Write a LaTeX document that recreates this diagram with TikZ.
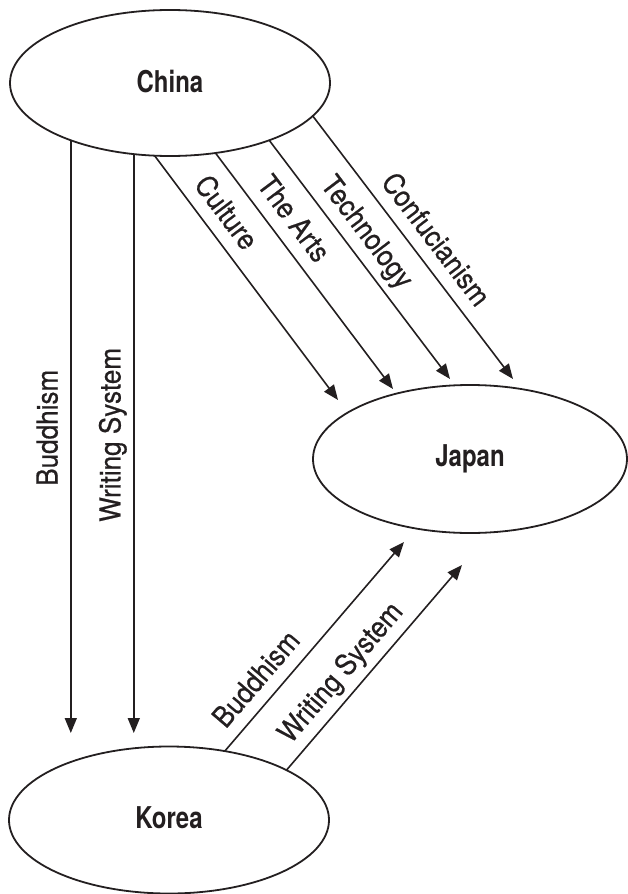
\documentclass[tikz,border=0pt]{standalone}
\usepackage{fontspec}
\usetikzlibrary{arrows.meta,shapes.geometric}
\newfontfamily\labfont{TeX Gyre Heros}[FakeStretch=0.9,FakeBold=0.6]
\newfontfamily\cityfont{TeX Gyre Heros}[FakeStretch=0.8]
\definecolor{ink}{HTML}{231F20}
\begin{document}
\begin{tikzpicture}[x=1pt,y=-1pt,
  city/.style={ellipse, draw=ink, line width=1.8pt, inner sep=0pt, outer sep=0pt,
    font=\cityfont\bfseries\fontsize{30}{30}\selectfont, text=ink},
  arr/.style={draw=ink, line width=1.6pt, -{Triangle[length=15pt,width=12pt]}},
  lab/.style={font=\labfont\fontsize{29}{29}\selectfont, text=ink,
    inner xsep=0pt, inner ysep=12.5pt, text depth=0pt, anchor=south}]
\useasboundingbox (0,0) rectangle (627,894);
\node[city, minimum width=320pt, minimum height=146pt] (China) at (170,83) {\raisebox{4pt}{China}};
\node[city, minimum width=314pt, minimum height=148pt] (Japan) at (470,459) {\raisebox{4pt}{Japan}};
\node[city, minimum width=320pt, minimum height=147pt] (Korea) at (169,820) {\raisebox{4pt}{Korea}};
\coordinate (kt) at (0,733);
\coordinate (jc) at (338,400);
\coordinate (ja) at (393,389);
\coordinate (jt) at (450,379);
\coordinate (jf) at (513,379);
\coordinate (kb) at (404,542);
\coordinate (kw) at (462,565);
\draw[arr] (China.210.5) -- (China.210.5 |- kt) node[lab, pos=0.485, rotate=90] {Buddhism};
\draw[arr] (China.243.8) -- (China.243.8 |- kt) node[lab, pos=0.485, rotate=90] {Writing System};
\draw[arr] (China.258.6) -- (jc) node[lab, sloped, pos=0.29] {Culture};
\draw[arr] (China.303.6) -- (ja) node[lab, sloped, pos=0.337] {The Arts};
\draw[arr] (China.330.7) -- (jt) node[lab, sloped, pos=0.442] {Technology};
\draw[arr] (China.347.9) -- (jf) node[lab, sloped, pos=0.523] {Confucianism};
\draw[arr] (Korea.51.1) -- (kb) node[lab, sloped, pos=0.273] {Buddhism};
\draw[arr] (Korea.23.1) -- (kw) node[lab, sloped, pos=0.405] {Writing System};
\end{tikzpicture}
\end{document}
